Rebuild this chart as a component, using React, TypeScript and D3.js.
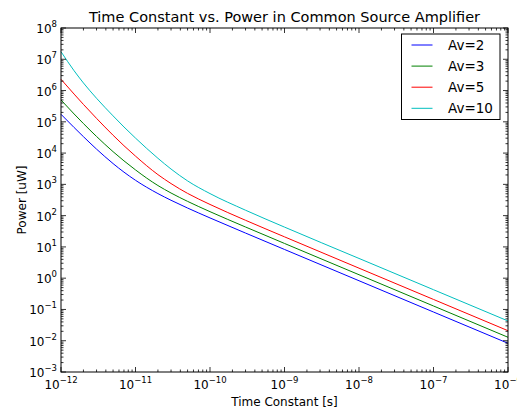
import * as d3 from "d3";

// time constant samples [s] and power readings [uW] per gain
const taus = [1e-12, 1.5e-12, 2e-12, 3e-12, 5e-12, 7e-12, 1e-11, 2e-11, 3e-11, 5e-11, 1e-10, 3e-10, 1e-9, 1e-8, 1e-7, 1e-6];
const av2 = [1.74e5, 6.57e4, 3.35e4, 1.34e4, 4.62e3, 2.46e3, 1.35e3, 507, 310, 175, 84.5, 27.7, 8.29, 0.828, 0.0828, 0.00828];
const av3 = [4.99e5, 1.78e5, 8.8e4, 3.4e4, 1.11e4, 5.65e3, 2.9e3, 917, 529, 286, 134, 43.3, 12.9, 1.29, 0.129, 0.0129];
const av5 = [2.29e6, 7.7e5, 3.6e5, 1.29e5, 3.72e4, 1.72e4, 8.0e3, 2.05e3, 1.06e3, 515, 228, 71, 21, 2.09, 0.209, 0.0209];
const av10 = [1.75e7, 4.29e6, 1.75e6, 5.66e5, 1.55e5, 6.84e4, 3.02e4, 6.82e3, 3.09e3, 1.29e3, 507, 149, 43, 4.28, 0.428, 0.0428];

const seriesNames = ["Av=2", "Av=3", "Av=5", "Av=10"];
const seriesValues = [av2, av3, av5, av10];
const colors = ["#0000ff", "#008000", "#ff0000", "#00bfbf"];

const xExponents = [-12, -11, -10, -9, -8, -7, -6];
const yExponents = [-3, -2, -1, 0, 1, 2, 3, 4, 5, 6, 7, 8];

const W = 517, H = 413;
const m = { left: 61, right: 508, top: 28, bottom: 372 };
const font = "DejaVu Sans, sans-serif";

const minus = (n: number) => (n < 0 ? "\u2212" + Math.abs(n) : String(n));

export default function App() {
  const x = d3.scaleLog().domain([1e-12, 1e-6]).range([m.left, m.right]);
  const y = d3.scaleLog().domain([1e-3, 1e8]).range([m.bottom, m.top]);

  const line = d3
    .line<[number, number]>()
    .x(d => x(d[0]))
    .y(d => y(d[1]))
    .curve(d3.curveMonotoneX);

  // minor ticks 2..9 in each decade
  const minorX: number[] = [];
  xExponents.slice(0, -1).forEach(e => d3.range(2, 10).forEach(k => minorX.push(k * Math.pow(10, e))));
  const minorY: number[] = [];
  yExponents.slice(0, -1).forEach(e => d3.range(2, 10).forEach(k => minorY.push(k * Math.pow(10, e))));

  const major = 5, minor = 2.5;

  return (
    <svg width={W} height={H} style={{ display: "block", background: "#fff" }} fontFamily={font}>
      <style>{`body{margin:0}`}</style>
      <rect x={0} y={0} width={W} height={H} fill="#fff" />

      {seriesValues.map((vals, i) => (
        <path
          key={seriesNames[i]}
          d={line(taus.map((t, j) => [t, vals[j]] as [number, number])) || ""}
          fill="none"
          stroke={colors[i]}
          strokeWidth={1}
        />
      ))}

      {/* ticks on all four sides, pointing inward */}
      <g stroke="#000" strokeWidth={0.8}>
        {xExponents.map(e => {
          const px = x(Math.pow(10, e));
          return (
            <g key={"xt" + e}>
              <line x1={px} x2={px} y1={m.bottom} y2={m.bottom - major} />
              <line x1={px} x2={px} y1={m.top} y2={m.top + major} />
            </g>
          );
        })}
        {minorX.map(v => {
          const px = x(v);
          return (
            <g key={"xm" + v}>
              <line x1={px} x2={px} y1={m.bottom} y2={m.bottom - minor} />
              <line x1={px} x2={px} y1={m.top} y2={m.top + minor} />
            </g>
          );
        })}
        {yExponents.map(e => {
          const py = y(Math.pow(10, e));
          return (
            <g key={"yt" + e}>
              <line x1={m.left} x2={m.left + major} y1={py} y2={py} />
              <line x1={m.right} x2={m.right - major} y1={py} y2={py} />
            </g>
          );
        })}
        {minorY.map(v => {
          const py = y(v);
          return (
            <g key={"ym" + v}>
              <line x1={m.left} x2={m.left + minor} y1={py} y2={py} />
              <line x1={m.right} x2={m.right - minor} y1={py} y2={py} />
            </g>
          );
        })}
      </g>

      <rect
        x={m.left}
        y={m.top}
        width={m.right - m.left}
        height={m.bottom - m.top}
        fill="none"
        stroke="#000"
        strokeWidth={1}
      />

      {/* tick labels */}
      {xExponents.map(e => (
        <text key={"xl" + e} x={x(Math.pow(10, e))} y={m.bottom + 17} fontSize={12} textAnchor="middle" fill="#000">
          10
          <tspan dy={-6} fontSize={8.5}>{minus(e)}</tspan>
        </text>
      ))}
      {yExponents.map(e => (
        <text key={"yl" + e} x={m.left - 4} y={y(Math.pow(10, e)) + 5} fontSize={12} textAnchor="end" fill="#000">
          10
          <tspan dy={-6} fontSize={8.5}>{minus(e)}</tspan>
        </text>
      ))}

      <text x={(m.left + m.right) / 2} y={22} fontSize={14.5} textAnchor="middle" fill="#000">
        Time Constant vs. Power in Common Source Amplifier
      </text>
      <text x={(m.left + m.right) / 2} y={406} fontSize={12} textAnchor="middle" fill="#000">
        Time Constant [s]
      </text>
      <text
        transform={`translate(26,${(m.top + m.bottom) / 2}) rotate(-90)`}
        fontSize={12}
        textAnchor="middle"
        fill="#000"
      >
        Power [uW]
      </text>

      {/* legend */}
      <g>
        <rect x={401.5} y={34} width={98.5} height={85.5} fill="#fff" stroke="#000" strokeWidth={1} />
        {seriesNames.map((name, i) => {
          const ly = 45 + i * 21.1;
          return (
            <g key={"lg" + name}>
              <line x1={411.5} x2={432.5} y1={ly} y2={ly} stroke={colors[i]} strokeWidth={1} />
              <text x={448} y={ly + 5} fontSize={13.5} fill="#000">{name}</text>
            </g>
          );
        })}
      </g>
    </svg>
  );
}
